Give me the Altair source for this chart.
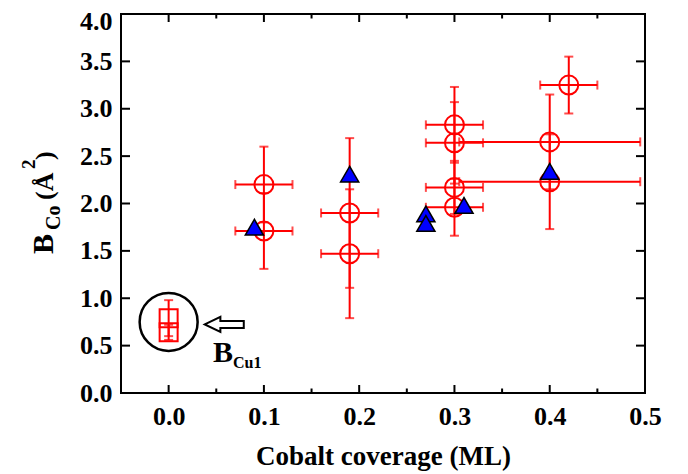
import altair as alt
import pandas as pd

# ---- data ----
circ_x = [0.10, 0.10, 0.19, 0.19, 0.30, 0.30, 0.30, 0.30, 0.40, 0.40, 0.42]
circ_y = [2.20, 1.71, 1.90, 1.47, 2.83, 2.64, 2.17, 1.96, 2.65, 2.23, 3.25]
circ_xerr = [0.03, 0.03, 0.03, 0.03, 0.03, 0.03, 0.03, 0.03, 0.095, 0.095, 0.03]
circ_yerr = [0.40, 0.40, 0.79, 0.68, 0.40, 0.43, 0.28, 0.30, 0.50, 0.50, 0.30]

tri_x = [0.09, 0.19, 0.27, 0.27, 0.31, 0.40]
tri_y = [1.75, 2.31, 1.89, 1.79, 1.98, 2.34]

cu_x = [0.0, 0.0]
cu_y = [0.79, 0.64]
cu_yerr = [0.19, 0.08]

ring_x = [0.0]
ring_y = [0.75]
arrow_x = [0.0584]
arrow_y = [0.724]

x_major = [0.0, 0.1, 0.2, 0.3, 0.4, 0.5]
x_minor = [0.05, 0.15, 0.25, 0.35, 0.45]
y_major = [0.0, 0.5, 1.0, 1.5, 2.0, 2.5, 3.0, 3.5, 4.0]

W, H = 524, 379
RED = "#ff0000"
FONT = "Liberation Serif"

xs = alt.Scale(domain=[-0.05, 0.5], nice=False, zero=False)
ys = alt.Scale(domain=[0, 4], nice=False, zero=False)

x_axis = alt.Axis(values=x_major, format=".1f", ticks=False, domain=False, grid=False,
                  labelFont=FONT, labelFontWeight="bold", labelFontSize=26, labelColor="black",
                  labelPadding=10, labelFlush=False, title="Cobalt coverage (ML)",
                  titleFont=FONT, titleFontWeight="bold", titleFontSize=27, titleColor="black",
                  titlePadding=14)
y_axis = alt.Axis(values=y_major, format=".1f", ticks=False, domain=False, grid=False,
                  labelFont=FONT, labelFontWeight="bold", labelFontSize=26, labelColor="black",
                  labelPadding=9, labelFlush=False, title="",
                  labelOffset={"condition": {"test": "datum.value >= 4", "value": 7}, "value": 0})

circ = pd.DataFrame({"x": circ_x, "y": circ_y, "xerr": circ_xerr, "yerr": circ_yerr})
circ["xlo"] = circ.x - circ.xerr
circ["xhi"] = circ.x + circ.xerr
circ["ylo"] = circ.y - circ.yerr
circ["yhi"] = circ.y + circ.yerr
tri = pd.DataFrame({"x": tri_x, "y": tri_y})
cu = pd.DataFrame({"x": cu_x, "y": cu_y, "yerr": cu_yerr})
cu["ylo"] = cu.y - cu.yerr
cu["yhi"] = cu.y + cu.yerr

X = lambda f: alt.X(f"{f}:Q", scale=xs, axis=x_axis)
Y = lambda f: alt.Y(f"{f}:Q", scale=ys, axis=y_axis)

base_c = alt.Chart(circ)
vbar = base_c.mark_rule(color=RED, strokeWidth=2).encode(x=X("x"), y=Y("ylo"), y2="yhi")
hbar = base_c.mark_rule(color=RED, strokeWidth=2).encode(x=X("xlo"), x2="xhi", y=Y("y"))
cap_lo = base_c.mark_tick(color=RED, orient="horizontal", size=9, thickness=2).encode(x=X("x"), y=Y("ylo"))
cap_hi = base_c.mark_tick(color=RED, orient="horizontal", size=9, thickness=2).encode(x=X("x"), y=Y("yhi"))
cap_l = base_c.mark_tick(color=RED, orient="vertical", size=9, thickness=2).encode(x=X("xlo"), y=Y("y"))
cap_r = base_c.mark_tick(color=RED, orient="vertical", size=9, thickness=2).encode(x=X("xhi"), y=Y("y"))
circles = base_c.mark_point(shape="circle", size=361, filled=False, color=RED, strokeWidth=2,
                            opacity=1).encode(x=X("x"), y=Y("y"))

base_cu = alt.Chart(cu)
cu_bar = base_cu.mark_rule(color=RED, strokeWidth=2).encode(x=X("x"), y=Y("ylo"), y2="yhi")
cu_lo = base_cu.mark_tick(color=RED, orient="horizontal", size=9, thickness=2).encode(x=X("x"), y=Y("ylo"))
cu_hi = base_cu.mark_tick(color=RED, orient="horizontal", size=9, thickness=2).encode(x=X("x"), y=Y("yhi"))
cu_sq = base_cu.mark_point(shape="square", size=324, filled=False, color=RED, strokeWidth=2,
                           opacity=1).encode(x=X("x"), y=Y("y"))

triangles = alt.Chart(tri).mark_point(shape="triangle-up", size=330, filled=True, fill="#0000ff",
                                      stroke="black", strokeWidth=1.5, opacity=1).encode(x=X("x"), y=Y("y"))

ring = alt.Chart(pd.DataFrame({"x": ring_x, "y": ring_y})).mark_point(
    shape="circle", size=3364, filled=False, color="black", strokeWidth=2.5, opacity=1
).encode(x=X("x"), y=Y("y"))

arrow_path = "M -1 0 L -0.2 -0.385 L -0.2 -0.18 L 1 -0.18 L 1 0.18 L -0.2 0.18 L -0.2 0.385 Z"
arrow = alt.Chart(pd.DataFrame({"x": arrow_x, "y": arrow_y})).mark_point(
    shape=arrow_path, size=1521, filled=True, fill="white", stroke="black", strokeWidth=2, opacity=1
).encode(x=X("x"), y=Y("y"))

# inward ticks
def xticks(vals, y0, y1):
    return alt.Chart(pd.DataFrame({"v": vals})).mark_rule(color="black", strokeWidth=2).encode(
        x=X("v"), y=alt.value(y0), y2=alt.value(y1))

def yticks(vals, x0, x1):
    return alt.Chart(pd.DataFrame({"v": vals})).mark_rule(color="black", strokeWidth=2).encode(
        y=Y("v"), x=alt.value(x0), x2=alt.value(x1))

ticks = [
    xticks(x_major, H, H - 8), xticks(x_minor, H, H - 4.5),
    xticks(x_major, 0, 8), xticks(x_minor, 0, 4.5),
    yticks(y_major, 0, 9), yticks(y_major, W, W - 9),
]

# text annotations (y-axis title with sub/superscripts, B_Cu1 label)
def txt(s, x, y, size, angle=0):
    return alt.Chart(pd.DataFrame({"t": [s]})).mark_text(
        text=s, font=FONT, fontWeight="bold", fontSize=size, color="black",
        align="left", baseline="alphabetic", angle=angle
    ).encode(x=alt.value(x), y=alt.value(y))

texts = [
    txt("B", -68, 240, 30, 270),
    txt("Co", -61, 216, 20, 270),
    txt("(Å", -68, 186, 26, 270),
    txt("2", -86, 155, 19, 270),
    txt(")", -68, 146, 26, 270),
    txt("B", 92, 348, 30),
    txt("Cu1", 112, 354, 16),
]

chart = alt.layer(
    *ticks, vbar, hbar, cap_lo, cap_hi, cap_l, cap_r, circles,
    cu_bar, cu_lo, cu_hi, cu_sq, ring, arrow, triangles, *texts
).properties(
    width=W, height=H,
    autosize=alt.AutoSizeParams(type="none"),
    padding={"left": 113, "top": 6, "right": 35, "bottom": 81},
).configure_view(stroke="black", strokeWidth=2)

chart.save("out.html", embed_options={"renderer": "svg", "actions": False})
